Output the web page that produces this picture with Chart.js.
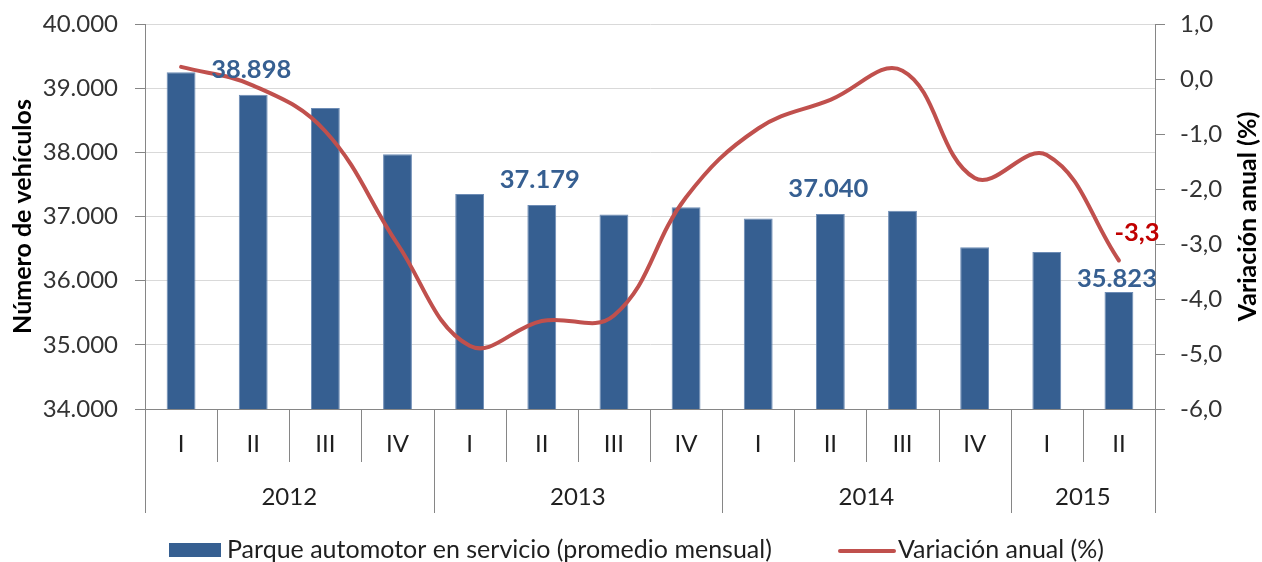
<!DOCTYPE html>
<html>
<head>
<meta charset="utf-8">
<script src="https://cdn.jsdelivr.net/npm/chart.js@4.4.0/dist/chart.umd.min.js"></script>
<style>
html,body{margin:0;padding:0;background:#fff;}
#wrap{width:1262px;height:562px;position:relative;}
</style>
</head>
<body>
<div id="wrap"><canvas id="c" width="1262" height="562"></canvas></div>
<script>
// ---- data ----
const quarters = ['I','II','III','IV','I','II','III','IV','I','II','III','IV','I','II'];
const years = ['2012','2012','2012','2012','2013','2013','2013','2013','2014','2014','2014','2014','2015','2015'];
const parque = [39250,38898,38690,37970,37350,37179,37030,37145,36970,37040,37090,36520,36445,35823];
const variacion = [0.22,-0.12,-0.95,-3.0,-4.85,-4.4,-4.3,-2.15,-0.9,-0.38,0.15,-1.8,-1.38,-3.3];
const parqueLabelIdx = [1,5,9,13];
const variacionLabelIdx = [13];
const leftTickLabels = ['34.000','35.000','36.000','37.000','38.000','39.000','40.000'];
const rightTickLabels = ['-6,0','-5,0','-4,0','-3,0','-2,0','-1,0','0,0','1,0'];
const seriesNames = ['Parque automotor en servicio (promedio mensual)','Variación anual (%)'];
const axisTitles = ['Número de vehículos','Variación anual (%)'];

// ---- styles ----
const BAR_COLOR = '#365F91';
const LINE_COLOR = '#C0504D';
const AXIS_COLOR = '#868686';
const TEXT_COLOR = '#1f1f1f';
const FONT = 'Lato, "Open Sans", sans-serif';

function fmtThousands(v){ return String(v).replace(/\B(?=(\d{3})+(?!\d))/g,'.'); }
function fmtDec(v){ return v.toFixed(1).replace('.',','); }

const decorPlugin = {
  id: 'decor',
  afterDraw(chart, args, opts){
    const ctx = chart.ctx;
    const xs = chart.scales.x;
    const area = chart.chartArea;
    const n = quarters.length;
    const axisY = area.bottom;
    ctx.save();
    // separators
    ctx.strokeStyle = AXIS_COLOR; ctx.lineWidth = 1;
    const sepX = [];
    for (let i = 0; i <= n; i++){
      let x;
      if (i === 0) x = area.left;
      else if (i === n) x = area.right;
      else x = (xs.getPixelForValue(i-1) + xs.getPixelForValue(i)) / 2;
      sepX.push(x);
      const long = (i === 0 || i === n || years[i] !== years[i-1]);
      ctx.beginPath();
      ctx.moveTo(Math.round(x)+0.5, axisY);
      ctx.lineTo(Math.round(x)+0.5, axisY + (long ? opts.yearSepLen : opts.quarterSepLen));
      ctx.stroke();
    }
    // quarter labels
    ctx.fillStyle = TEXT_COLOR;
    ctx.font = opts.catFont;
    ctx.textAlign = 'center'; ctx.textBaseline = 'middle';
    for (let i = 0; i < n; i++){
      ctx.fillText(quarters[i], xs.getPixelForValue(i), axisY + opts.quarterDy);
    }
    // year labels
    let start = 0;
    for (let i = 1; i <= n; i++){
      if (i === n || years[i] !== years[start]){
        const cx = (sepX[start] + sepX[i]) / 2;
        ctx.fillText(years[start], cx, axisY + opts.yearDy);
        start = i;
      }
    }
    // data labels - bars
    const barMeta = chart.getDatasetMeta(1);
    ctx.font = opts.labelFont;
    ctx.fillStyle = BAR_COLOR;
    parqueLabelIdx.forEach(i => {
      const el = barMeta.data[i];
      const off = (opts.barLabelOffsets[i] !== undefined) ? opts.barLabelOffsets[i] : opts.barLabelOffset;
      ctx.fillText(fmtThousands(parque[i]), el.x - 2, el.y - off);
    });
    // data labels - line
    const lineMeta = chart.getDatasetMeta(0);
    ctx.fillStyle = '#C00000';
    variacionLabelIdx.forEach(i => {
      const el = lineMeta.data[i];
      ctx.fillText(fmtDec(variacion[i]), el.x + opts.lineLabelDx, el.y + opts.lineLabelDy);
    });
    // right axis title (reads bottom to top)
    ctx.save();
    ctx.fillStyle = '#000';
    ctx.font = opts.titleFont;
    ctx.translate(opts.rightTitleX, (area.top + area.bottom) / 2);
    ctx.rotate(-Math.PI / 2);
    ctx.fillText(axisTitles[1], 0, 0);
    ctx.restore();
    // legend
    const ly = opts.legendY;
    ctx.font = opts.legendFont;
    ctx.fillStyle = BAR_COLOR;
    ctx.fillRect(opts.legend1X, ly - 7, 52, 14);
    ctx.fillStyle = TEXT_COLOR;
    ctx.textAlign = 'left';
    ctx.fillText(chart.data.datasets[1].label, opts.legend1X + 58, ly);
    ctx.strokeStyle = LINE_COLOR; ctx.lineWidth = 4; ctx.lineCap = 'round';
    ctx.beginPath();
    ctx.moveTo(opts.legend2X, ly + 1); ctx.lineTo(opts.legend2X + 54, ly + 1);
    ctx.stroke();
    ctx.fillText(chart.data.datasets[0].label, opts.legend2X + 58, ly);
    ctx.restore();
  }
};

new Chart(document.getElementById('c'), {
  type: 'bar',
  data: {
    labels: quarters,
    datasets: [
      {
        type: 'line', label: seriesNames[1], data: variacion, yAxisID: 'y1',
        borderColor: LINE_COLOR, backgroundColor: LINE_COLOR, borderWidth: 4,
        tension: 0.4, pointRadius: 0, fill: false, order: 0, borderCapStyle: 'round'
      },
      {
        type: 'bar', label: seriesNames[0], data: parque, yAxisID: 'y',
        backgroundColor: BAR_COLOR, borderColor: '#6D8CB5', borderWidth: 1,
        categoryPercentage: 0.4, barPercentage: 1, order: 1
      }
    ]
  },
  options: {
    responsive: false,
    animation: false,
    layout: { padding: { top: 24, left: 0, right: 0, bottom: 0 } },
    plugins: {
      legend: { display: false },
      tooltip: { enabled: false },
      decor: {
        quarterSepLen: 53, yearSepLen: 104,
        quarterDy: 35, yearDy: 88,
        catFont: '24px ' + FONT,
        labelFont: 'bold 25.5px ' + FONT,
        titleFont: 'bold 25px ' + FONT,
        legendFont: '25px ' + FONT,
        barLabelOffset: 25,
        barLabelOffsets: { 13: 13 },
        lineLabelDx: 18, lineLabelDy: -28,
        rightTitleX: 1248,
        legendY: 550, legend1X: 169, legend2X: 840
      }
    },
    scales: {
      x: {
        grid: { display: false },
        ticks: { display: false },
        border: { display: true, color: AXIS_COLOR },
        afterFit(s){ s.height = 562 - 409; }
      },
      y: {
        position: 'left', min: 34000, max: 40000,
        ticks: { stepSize: 1000, callback: (v, i) => leftTickLabels[i], font: { family: FONT, size: 24 }, color: '#333333', padding: 17 },
        grid: { color: '#D9D9D9', tickColor: AXIS_COLOR, tickLength: 10, lineWidth: 1 },
        border: { color: AXIS_COLOR },
        title: { display: true, text: axisTitles[0], color: '#000', font: { family: FONT, size: 25, weight: 'bold' }, padding: { top: 8, bottom: 0 } },
        afterFit(s){ s.width = 145; s.paddingTop = 0; s.paddingBottom = 0; }
      },
      y1: {
        position: 'right', min: -6, max: 1,
        ticks: { stepSize: 1, callback: (v, i) => rightTickLabels[i], font: { family: FONT, size: 24 }, color: '#333333', padding: 15 },
        grid: { drawOnChartArea: false, tickColor: AXIS_COLOR, tickLength: 10 },
        border: { color: AXIS_COLOR },
        afterFit(s){ s.width = 107; s.paddingTop = 0; s.paddingBottom = 0; }
      }
    }
  },
  plugins: [decorPlugin]
});
</script>
</body>
</html>
